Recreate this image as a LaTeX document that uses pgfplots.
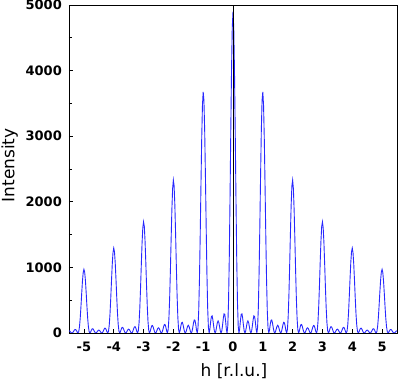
\documentclass[border=0pt]{standalone}
\usepackage{fontspec}
\setmainfont{DejaVu Sans}
\usepackage{pgfplots}
\pgfplotsset{compat=1.18}
\definecolor{lineblue}{RGB}{40,40,255}
\begin{document}
\begin{tikzpicture}
\useasboundingbox (-69bp,-49bp) rectangle (329bp,333bp);
\begin{axis}[
  at={(0,0)}, anchor=south west,
  scale only axis, width=328bp, height=328bp,
  xmin=-5.5, xmax=5.5, ymin=0, ymax=5000,
  xtick={-5,-4,-3,-2,-1,0,1,2,3,4,5},
  xticklabels={-5,-4,-3,-2,-1,0,1,2,3,4,5},
  ytick={0,1000,2000,3000,4000,5000},
  yticklabels={0,1000,2000,3000,4000,5000},
  minor ytick={500,1500,2500,3500,4500},
  tick align=inside, tick pos=left,
  major tick length=4bp, minor tick length=3bp,
  tick style={black, line width=0.8bp},
  axis line style={black, line width=0.8bp},
  tick label style={font=\fontsize{13bp}{15bp}\selectfont\bfseries},
  xticklabel style={anchor=north, inner sep=0pt, yshift=-8.5bp},
  yticklabel style={anchor=east, inner sep=0pt, xshift=-7bp},
  xlabel={h [r.l.u.]}, ylabel={Intensity},
  label style={font=\fontsize{17bp}{20bp}\selectfont},
  xlabel style={at={(axis description cs:0.503,-0.116)}, anchor=center},
  ylabel style={at={(axis description cs:-0.181,0.511)}, anchor=center},
]
\addplot[lineblue, line width=0.9bp, no markers] coordinates {
(-5.5,33) (-5.475,29) (-5.45,17) (-5.425,5) (-5.4,0) (-5.375,6) (-5.35,22) (-5.325,41) (-5.3,54) (-5.275,53) (-5.25,36) (-5.225,13) (-5.2,0) (-5.175,20) (-5.15,90) (-5.125,218) (-5.1,395) (-5.075,595) (-5.05,782) (-5.025,917)
(-5,970) (-4.975,931) (-4.95,806) (-4.925,623) (-4.9,420) (-4.875,235) (-4.85,99) (-4.825,22) (-4.8,0) (-4.775,14) (-4.75,42) (-4.725,62) (-4.7,65) (-4.675,50) (-4.65,27) (-4.625,7) (-4.6,0) (-4.575,7) (-4.55,23) (-4.525,38)
(-4.5,45) (-4.475,39) (-4.45,23) (-4.425,7) (-4.4,0) (-4.375,8) (-4.35,30) (-4.325,56) (-4.3,73) (-4.275,71) (-4.25,48) (-4.225,17) (-4.2,0) (-4.175,26) (-4.15,121) (-4.125,292) (-4.1,528) (-4.075,795) (-4.05,1044) (-4.025,1223)
(-4,1294) (-3.975,1239) (-3.95,1072) (-3.925,827) (-3.9,557) (-3.875,312) (-3.85,131) (-3.825,29) (-3.8,0) (-3.775,19) (-3.75,55) (-3.725,82) (-3.7,86) (-3.675,66) (-3.65,36) (-3.625,10) (-3.6,0) (-3.575,9) (-3.55,30) (-3.525,50)
(-3.5,59) (-3.475,51) (-3.45,31) (-3.425,9) (-3.4,0) (-3.375,10) (-3.35,39) (-3.325,73) (-3.3,95) (-3.275,93) (-3.25,63) (-3.225,22) (-3.2,0) (-3.175,35) (-3.15,158) (-3.125,382) (-3.1,691) (-3.075,1041) (-3.05,1367) (-3.025,1603)
(-3,1695) (-2.975,1626) (-2.95,1407) (-2.925,1087) (-2.9,732) (-2.875,411) (-2.85,172) (-2.825,38) (-2.8,0) (-2.775,25) (-2.75,73) (-2.725,109) (-2.7,114) (-2.675,88) (-2.65,48) (-2.625,13) (-2.6,0) (-2.575,12) (-2.55,40) (-2.525,68)
(-2.5,79) (-2.475,69) (-2.45,41) (-2.425,13) (-2.4,0) (-2.375,14) (-2.35,53) (-2.325,99) (-2.3,130) (-2.275,126) (-2.25,86) (-2.225,30) (-2.2,0) (-2.175,47) (-2.15,216) (-2.125,523) (-2.1,947) (-2.075,1427) (-2.05,1876) (-2.025,2201)
(-2,2330) (-1.975,2243) (-1.95,1948) (-1.925,1510) (-1.9,1021) (-1.875,574) (-1.85,242) (-1.825,54) (-1.8,0) (-1.775,36) (-1.75,104) (-1.725,155) (-1.7,163) (-1.675,127) (-1.65,69) (-1.625,19) (-1.6,0) (-1.575,18) (-1.55,59) (-1.525,100)
(-1.5,118) (-1.475,102) (-1.45,62) (-1.425,19) (-1.4,0) (-1.375,22) (-1.35,80) (-1.325,151) (-1.3,199) (-1.275,194) (-1.25,133) (-1.225,47) (-1.2,0) (-1.175,74) (-1.15,337) (-1.125,817) (-1.1,1482) (-1.075,2238) (-1.05,2947) (-1.025,3464)
(-1,3675) (-0.975,3548) (-0.95,3092) (-0.925,2404) (-0.9,1630) (-0.875,920) (-0.85,388) (-0.825,87) (-0.8,0) (-0.775,58) (-0.75,169) (-0.725,251) (-0.7,262) (-0.675,203) (-0.65,110) (-0.625,30) (-0.6,0) (-0.575,28) (-0.55,93) (-0.525,157)
(-0.5,184) (-0.475,159) (-0.45,95) (-0.425,29) (-0.4,0) (-0.375,32) (-0.35,119) (-0.325,224) (-0.3,292) (-0.275,284) (-0.25,193) (-0.225,67) (-0.2,0) (-0.175,104) (-0.15,471) (-0.125,1134) (-0.1,2040) (-0.075,3056) (-0.05,3993) (-0.025,4656)
(0,4900)
(0.025,4656) (0.05,3993) (0.075,3056) (0.1,2040) (0.125,1134) (0.15,471) (0.175,104) (0.2,0) (0.225,67) (0.25,193) (0.275,284) (0.3,292) (0.325,224) (0.35,119) (0.375,32) (0.4,0) (0.425,29) (0.45,95) (0.475,159) (0.5,184)
(0.525,157) (0.55,93) (0.575,28) (0.6,0) (0.625,30) (0.65,110) (0.675,203) (0.7,262) (0.725,251) (0.75,169) (0.775,58) (0.8,0) (0.825,87) (0.85,388) (0.875,920) (0.9,1630) (0.925,2404) (0.95,3092) (0.975,3548) (1,3675)
(1.025,3464) (1.05,2947) (1.075,2238) (1.1,1482) (1.125,817) (1.15,337) (1.175,74) (1.2,0) (1.225,47) (1.25,133) (1.275,194) (1.3,199) (1.325,151) (1.35,80) (1.375,22) (1.4,0) (1.425,19) (1.45,62) (1.475,102) (1.5,118)
(1.525,100) (1.55,59) (1.575,18) (1.6,0) (1.625,19) (1.65,69) (1.675,127) (1.7,163) (1.725,155) (1.75,104) (1.775,36) (1.8,0) (1.825,54) (1.85,242) (1.875,574) (1.9,1021) (1.925,1510) (1.95,1948) (1.975,2243) (2,2330)
(2.025,2201) (2.05,1876) (2.075,1427) (2.1,947) (2.125,523) (2.15,216) (2.175,47) (2.2,0) (2.225,30) (2.25,86) (2.275,126) (2.3,130) (2.325,99) (2.35,53) (2.375,14) (2.4,0) (2.425,13) (2.45,41) (2.475,69) (2.5,79)
(2.525,68) (2.55,40) (2.575,12) (2.6,0) (2.625,13) (2.65,48) (2.675,88) (2.7,114) (2.725,109) (2.75,73) (2.775,25) (2.8,0) (2.825,38) (2.85,172) (2.875,411) (2.9,732) (2.925,1087) (2.95,1407) (2.975,1626) (3,1695)
(3.025,1603) (3.05,1367) (3.075,1041) (3.1,691) (3.125,382) (3.15,158) (3.175,35) (3.2,0) (3.225,22) (3.25,63) (3.275,93) (3.3,95) (3.325,73) (3.35,39) (3.375,10) (3.4,0) (3.425,9) (3.45,31) (3.475,51) (3.5,59)
(3.525,50) (3.55,30) (3.575,9) (3.6,0) (3.625,10) (3.65,36) (3.675,66) (3.7,86) (3.725,82) (3.75,55) (3.775,19) (3.8,0) (3.825,29) (3.85,131) (3.875,312) (3.9,557) (3.925,827) (3.95,1072) (3.975,1239) (4,1294)
(4.025,1223) (4.05,1044) (4.075,795) (4.1,528) (4.125,292) (4.15,121) (4.175,26) (4.2,0) (4.225,17) (4.25,48) (4.275,71) (4.3,73) (4.325,56) (4.35,30) (4.375,8) (4.4,0) (4.425,7) (4.45,23) (4.475,39) (4.5,45)
(4.525,38) (4.55,23) (4.575,7) (4.6,0) (4.625,7) (4.65,27) (4.675,50) (4.7,65) (4.725,62) (4.75,42) (4.775,14) (4.8,0) (4.825,22) (4.85,99) (4.875,235) (4.9,420) (4.925,623) (4.95,806) (4.975,931) (5,970)
(5.025,917) (5.05,782) (5.075,595) (5.1,395) (5.125,218) (5.15,90) (5.175,20) (5.2,0) (5.225,13) (5.25,36) (5.275,53) (5.3,54) (5.325,41) (5.35,22) (5.375,6) (5.4,0) (5.425,5) (5.45,17) (5.475,29) (5.5,33)
};
\addplot[black, line width=0.8bp, no markers] coordinates {(0,0) (0,5000)};
\end{axis}
\end{tikzpicture}
\end{document}
